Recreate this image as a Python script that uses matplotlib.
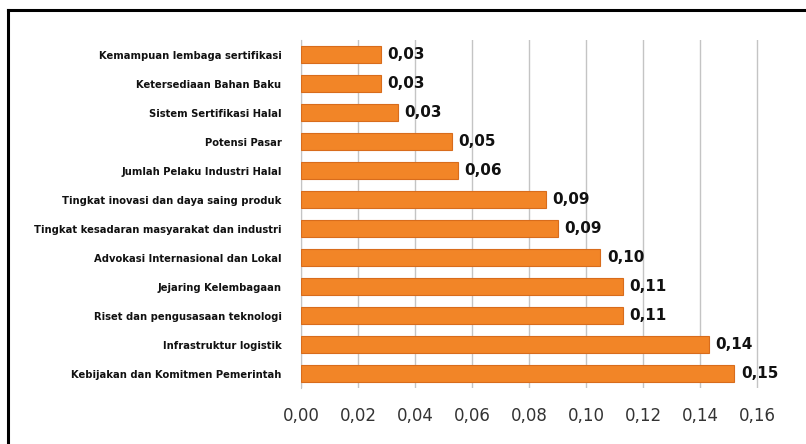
import matplotlib
matplotlib.use("Agg")
import matplotlib.pyplot as plt
from matplotlib.lines import Line2D

# --- data (top to bottom as shown) ---
categories = [
    "Kemampuan lembaga sertifikasi",
    "Ketersediaan Bahan Baku",
    "Sistem Sertifikasi Halal",
    "Potensi Pasar",
    "Jumlah Pelaku Industri Halal",
    "Tingkat inovasi dan daya saing produk",
    "Tingkat kesadaran masyarakat dan industri",
    "Advokasi Internasional dan Lokal",
    "Jejaring Kelembagaan",
    "Riset dan pengusasaan teknologi",
    "Infrastruktur logistik",
    "Kebijakan dan Komitmen Pemerintah",
]
values = [0.028, 0.028, 0.034, 0.053, 0.055, 0.086, 0.090, 0.105, 0.113, 0.113, 0.143, 0.152]
xticks = [0.00, 0.02, 0.04, 0.06, 0.08, 0.10, 0.12, 0.14, 0.16]


def fmt(v):
    return f"{v:.2f}".replace(".", ",")


fig = plt.figure(figsize=(8.06, 4.44), dpi=100)
ax = fig.add_axes([301 / 806, 1 - 388 / 444, 458 / 806, 348 / 444])

ypos = list(range(len(categories)))
ax.barh(ypos, values, height=0.58, color="#F28527", edgecolor="#D86C1C",
        linewidth=0.8, zorder=3)

for y, v in zip(ypos, values):
    ax.text(v + 0.0023, y, fmt(v), va="center", ha="left",
            fontsize=11, fontweight="bold", color="#111111", zorder=4)

ax.set_ylim(len(categories) - 0.5, -0.5)
ax.set_xlim(0, 0.1607)
ax.set_yticks(ypos)
ax.set_yticklabels(categories, fontsize=7.2, fontweight="bold", color="#111111")
ax.set_xticks(xticks)
ax.set_xticklabels([fmt(t) for t in xticks], fontsize=12, color="#333333")
ax.tick_params(axis="y", length=0, pad=14)
ax.tick_params(axis="x", length=0, pad=14)

ax.grid(axis="x", color="#C4C4C4", linewidth=1.0, zorder=0)
for side in ["top", "right", "bottom"]:
    ax.spines[side].set_visible(False)
ax.spines["left"].set_color("#C4C4C4")

# outer frame (left and top visible)
fig.add_artist(Line2D([8 / 806, 8 / 806], [0, 1 - 10 / 444], transform=fig.transFigure,
                      color="black", linewidth=2.2))
fig.add_artist(Line2D([8 / 806, 1], [1 - 10 / 444, 1 - 10 / 444], transform=fig.transFigure,
                      color="black", linewidth=2.2))

fig.savefig("out.png", dpi=100)
